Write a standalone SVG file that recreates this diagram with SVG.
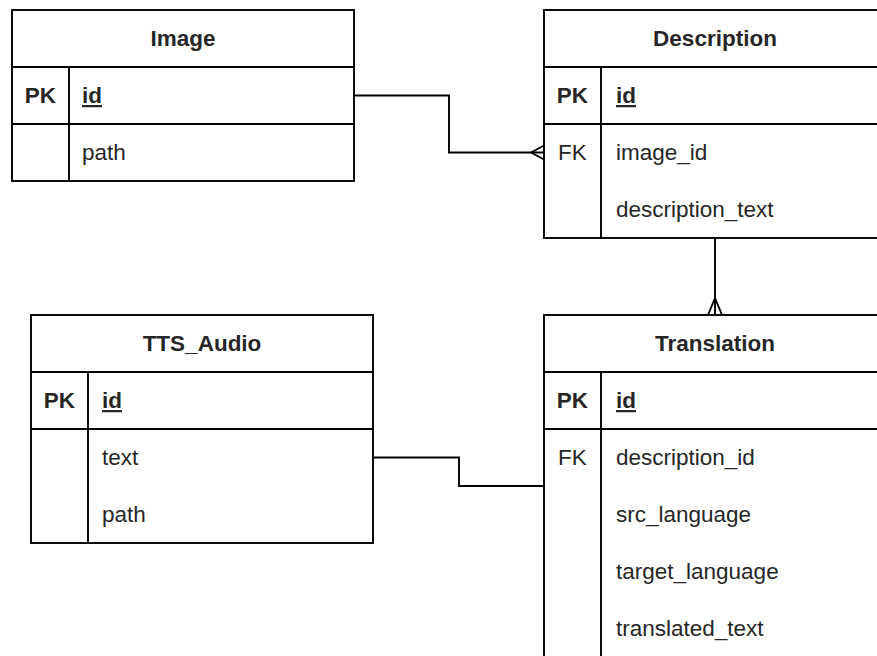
<svg xmlns="http://www.w3.org/2000/svg" width="877" height="656" viewBox="0 0 877 656">
<style>
.box{fill:#ffffff;stroke:#000000;stroke-width:1.9}
.ln{fill:none;stroke:#000000;stroke-width:1.9}
text{font-family:"Liberation Sans",Arial,sans-serif;font-size:22.5px;fill:#262626}
.h{font-weight:bold;text-anchor:middle}
.k{text-anchor:middle}
.kb{text-anchor:middle;font-weight:bold}
.pk{font-weight:bold;text-decoration:underline}
.edge{fill:none;stroke:#000000;stroke-width:1.9}
</style>
<rect width="877" height="656" fill="#ffffff"/>
<g id="connectors">
  <polyline class="edge" points="354,95.5 449,95.5 449,152.5 544,152.5"/>
  <polyline class="edge" points="531,152.5 544,145.5"/>
  <polyline class="edge" points="531,152.5 544,159.5"/>
  <polyline class="edge" points="715,238 715,315"/>
  <polyline class="edge" points="715,298 708,315"/>
  <polyline class="edge" points="715,298 722,315"/>
  <polyline class="edge" points="373,457.5 459,457.5 459,486 544,486"/>
</g>
<g id="Image">
  <rect class="box" x="12" y="10" width="342" height="171"/>
  <line class="ln" x1="12" y1="67" x2="354" y2="67"/>
  <line class="ln" x1="12" y1="124" x2="354" y2="124"/>
  <line class="ln" x1="69" y1="67" x2="69" y2="181"/>
  <text class="h" x="183" y="46">Image</text>
  <text class="kb" x="40.5" y="103">PK</text>
  <text class="pk" x="82" y="103">id</text>
  <text x="82" y="160">path</text>
</g>
<g id="Description">
  <rect class="box" x="544" y="10" width="342" height="228"/>
  <line class="ln" x1="544" y1="67" x2="886" y2="67"/>
  <line class="ln" x1="544" y1="124" x2="886" y2="124"/>
  <line class="ln" x1="601" y1="67" x2="601" y2="238"/>
  <text class="h" x="715" y="46">Description</text>
  <text class="kb" x="572.5" y="103">PK</text>
  <text class="pk" x="616" y="103">id</text>
  <text class="k" x="572.5" y="160">FK</text>
  <text x="616" y="160">image_id</text>
  <text x="616" y="217">description_text</text>
</g>
<g id="TTS_Audio">
  <rect class="box" x="31" y="315" width="342" height="228"/>
  <line class="ln" x1="31" y1="372" x2="373" y2="372"/>
  <line class="ln" x1="31" y1="429" x2="373" y2="429"/>
  <line class="ln" x1="88" y1="372" x2="88" y2="543"/>
  <text class="h" x="202" y="351">TTS_Audio</text>
  <text class="kb" x="59.5" y="408">PK</text>
  <text class="pk" x="102" y="408">id</text>
  <text x="102" y="465">text</text>
  <text x="102" y="522">path</text>
</g>
<g id="Translation">
  <rect class="box" x="544" y="315" width="342" height="342"/>
  <line class="ln" x1="544" y1="372" x2="886" y2="372"/>
  <line class="ln" x1="544" y1="429" x2="886" y2="429"/>
  <line class="ln" x1="601" y1="372" x2="601" y2="657"/>
  <text class="h" x="715" y="351">Translation</text>
  <text class="kb" x="572.5" y="408">PK</text>
  <text class="pk" x="616" y="408">id</text>
  <text class="k" x="572.5" y="465">FK</text>
  <text x="616" y="465">description_id</text>
  <text x="616" y="522">src_language</text>
  <text x="616" y="579">target_language</text>
  <text x="616" y="636">translated_text</text>
</g>
</svg>
